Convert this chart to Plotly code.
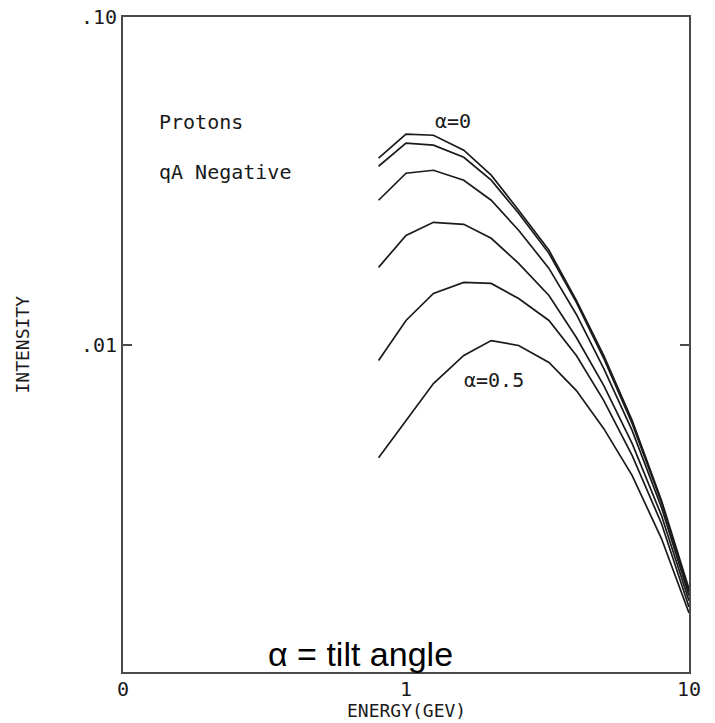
import plotly.graph_objects as go

# Energy (GeV) sample points
energy = [0.8, 1.0, 1.25, 1.6, 2.0, 2.5, 3.2, 4.0, 5.0, 6.3, 8.0, 10.0]

# Intensity curves, from alpha = 0 (top) to alpha = 0.5 (bottom)
alpha_0 = [0.03705, 0.04386, 0.04355, 0.03920, 0.03288, 0.02570, 0.01939, 0.01363, 0.009256, 0.005856, 0.003334, 0.001794]
alpha_1 = [0.03502, 0.04118, 0.04061, 0.03731, 0.03174, 0.02516, 0.01898, 0.01344, 0.009061, 0.005732, 0.003287, 0.001756]
alpha_2 = [0.02757, 0.03334, 0.03404, 0.03174, 0.02757, 0.02232, 0.01708, 0.01235, 0.008445, 0.005458, 0.003174, 0.001708]
alpha_3 = [0.01720, 0.02154, 0.02361, 0.02328, 0.02110, 0.01769, 0.01412, 0.01050, 0.007491, 0.004980, 0.003000, 0.001649]
alpha_4 = [0.008935, 0.01184, 0.01432, 0.01547, 0.01536, 0.01382, 0.01184, 0.009256, 0.006741, 0.004577, 0.002836, 0.001580]
alpha_5 = [0.004512, 0.005855, 0.007597, 0.009256, 0.01028, 0.009929, 0.008810, 0.007233, 0.005535, 0.003976, 0.002551, 0.001515]

series = [alpha_0, alpha_1, alpha_2, alpha_3, alpha_4, alpha_5]

x_tickvals = [0.1, 1, 10]
x_ticktext = ["0", "1", "10"]
y_tickvals = [0.01, 0.1]
y_ticktext = [".01", ".10"]

mono = "DejaVu Sans Mono"
ink = "#1a1a1a"
label_size = 20
title_size = 18

fig = go.Figure()
for s in series:
    fig.add_trace(go.Scatter(x=energy, y=s, mode="lines",
                             line=dict(color=ink, width=1.7),
                             showlegend=False, hoverinfo="skip"))

axis_common = dict(showgrid=False, zeroline=False, showline=True, linecolor="#4a4a4a",
                   linewidth=2, automargin=False,
                   tickfont=dict(family=mono, size=label_size, color=ink))

fig.update_layout(
    width=715, height=723,
    margin=dict(l=123, r=26, t=17, b=51),
    paper_bgcolor="white", plot_bgcolor="white",
    xaxis=dict(type="log", range=[-1, 1], tickvals=x_tickvals, ticktext=x_ticktext,
               ticks="", mirror=True, ticklabelstandoff=-2,
               **axis_common),
    yaxis=dict(type="log", range=[-3, -1], tickvals=y_tickvals, ticktext=y_ticktext,
               ticks="inside", ticklen=9, tickcolor="#4a4a4a", tickwidth=1.5, mirror="ticks",
               **axis_common),
)

# axis titles
fig.add_annotation(x=0.5, y=-0.0595, xref="paper", yref="paper", text="ENERGY(GEV)",
                   showarrow=False, xanchor="center", yanchor="middle",
                   font=dict(family=mono, size=title_size, color=ink))
fig.add_annotation(x=-0.1784, y=0.5, xref="paper", yref="paper", text="INTENSITY",
                   showarrow=False, xanchor="center", yanchor="middle", textangle=-90,
                   font=dict(family=mono, size=title_size, color=ink))

ann_font = dict(family=mono, size=label_size, color=ink)
fig.add_annotation(x=0.060, y=0.840, xref="paper", yref="paper", text="Protons",
                   showarrow=False, xanchor="left", yanchor="middle", font=ann_font)
fig.add_annotation(x=0.060, y=0.763, xref="paper", yref="paper", text="qA Negative",
                   showarrow=False, xanchor="left", yanchor="middle", font=ann_font)
fig.add_annotation(x=0.583, y=0.841, xref="paper", yref="paper", text="α=0",
                   showarrow=False, xanchor="center", yanchor="middle", font=ann_font)
fig.add_annotation(x=0.655, y=0.446, xref="paper", yref="paper", text="α=0.5",
                   showarrow=False, xanchor="center", yanchor="middle", font=ann_font)
fig.add_annotation(x=0.42, y=-0.005, xref="paper", yref="paper", text="α = tilt angle",
                   showarrow=False, xanchor="center", yanchor="bottom",
                   font=dict(family="Liberation Sans", size=34, color="black"))

fig.write_html("out.html")
